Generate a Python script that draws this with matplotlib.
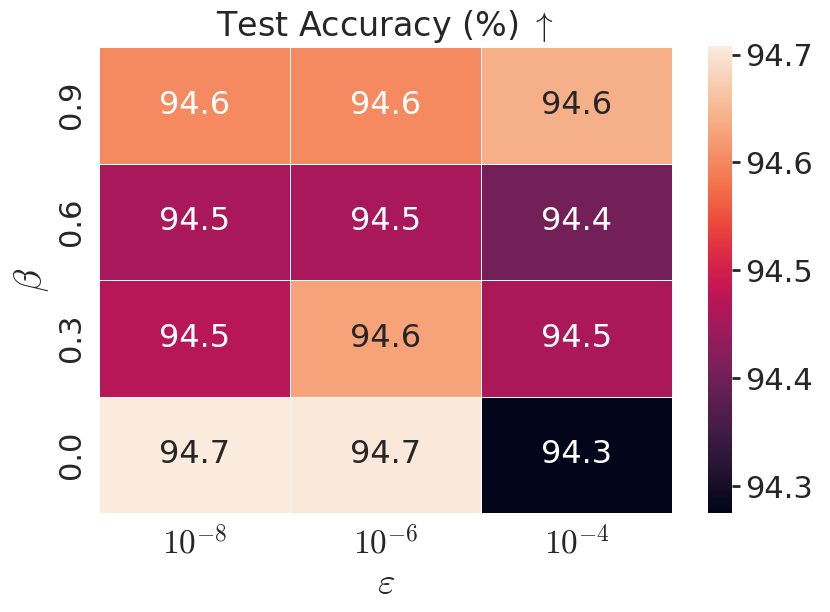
import numpy as np
import matplotlib
matplotlib.use("Agg")
import matplotlib.pyplot as plt
import seaborn as sns

sns.set_theme(style="white", font_scale=2.0)
plt.rcParams['font.family'] = ['DejaVu Sans']
plt.rcParams['mathtext.fontset'] = 'cm'

betas = ["0.9", "0.6", "0.3", "0.0"]
eps_labels = [r"$10^{-8}$", r"$10^{-6}$", r"$10^{-4}$"]
acc = np.array([
    [94.602, 94.603, 94.642],
    [94.455, 94.455, 94.402],
    [94.470, 94.628, 94.456],
    [94.708, 94.706, 94.275],
])

fig = plt.figure(figsize=(8.3, 6.12), dpi=100)
ax = fig.add_axes([99/830, 1-513/612, 573/830, 466/612])
cax = fig.add_axes([708/830, 1-513/612, 24/830, 467/612])
sns.heatmap(acc, ax=ax, cbar_ax=cax, annot=True, fmt=".1f", cmap="rocket",
            linewidths=0.5, linecolor="white",
            xticklabels=eps_labels, yticklabels=betas,
            annot_kws={"size": 23})
ax.set_title(r"Test Accuracy (%) $\uparrow$", fontsize=24, pad=8)
ax.set_xlabel(r"$\varepsilon$", fontsize=27)
ax.set_ylabel(r"$\beta$", fontsize=27)
ax.tick_params(axis='x', labelsize=24)
ax.tick_params(axis='y', labelsize=22)
ax.set_yticklabels(betas, rotation=90, va='center')
cax.tick_params(labelsize=22, length=6, width=2)
cax.set_yticks([94.3, 94.4, 94.5, 94.6, 94.7])
fig.savefig("out.png", dpi=100)
